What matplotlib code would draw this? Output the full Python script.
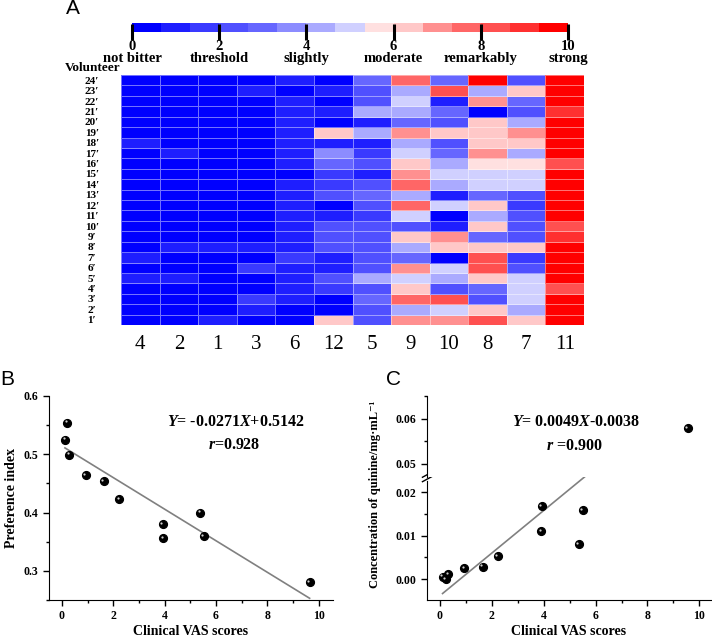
"""Bitterness panel: VAS heatmap (A) and correlation plots (B, C)."""
import numpy as np
import matplotlib
matplotlib.use("Agg")
import matplotlib.pyplot as plt
from matplotlib.colors import ListedColormap, BoundaryNorm
from matplotlib.ticker import MultipleLocator, FormatStrFormatter
from matplotlib.transforms import offset_copy

plt.rcParams["font.family"] = ["Liberation Serif", "DejaVu Serif"]
plt.rcParams["font.weight"] = "bold"
plt.rcParams["axes.labelweight"] = "bold"
plt.rcParams["mathtext.fontset"] = "custom"
plt.rcParams["mathtext.rm"] = "Liberation Serif:bold"
plt.rcParams["mathtext.it"] = "Liberation Serif:italic:bold"
plt.rcParams["mathtext.bf"] = "Liberation Serif:bold"

# --- data -------------------------------------------------------------------
samples = ["4", "2", "1", "3", "6", "12", "5", "9", "10", "8", "7", "11"]
volunteers = [f"{i}\u2032" for i in range(1, 25)]

# VAS scores, row = volunteer 1..24, column = samples (in the order above)
vas = np.array([
    [0.3, 0.3, 1.0, 0.3, 0.3, 6.3, 2.3, 7.0, 7.0, 8.3, 6.3, 9.7],
    [0.3, 0.3, 0.3, 1.0, 0.3, 0.3, 2.3, 4.3, 5.0, 6.3, 4.3, 9.7],
    [0.3, 0.3, 0.3, 1.7, 1.0, 0.3, 3.0, 7.7, 8.3, 2.3, 5.0, 9.7],
    [0.3, 0.3, 0.3, 0.3, 1.0, 1.7, 2.3, 6.3, 2.3, 3.0, 5.0, 8.3],
    [1.0, 1.0, 0.3, 0.3, 1.0, 2.3, 4.3, 5.0, 4.3, 6.3, 5.0, 9.7],
    [0.3, 0.3, 0.3, 1.7, 1.0, 1.0, 2.3, 7.0, 5.0, 8.3, 2.3, 9.7],
    [1.0, 0.3, 0.3, 0.3, 1.7, 1.0, 2.3, 3.0, 0.3, 8.3, 1.7, 9.7],
    [0.3, 1.0, 1.0, 1.0, 1.0, 2.3, 2.3, 4.3, 6.3, 6.3, 6.3, 9.7],
    [0.3, 0.3, 0.3, 0.3, 1.0, 2.3, 2.3, 6.3, 7.0, 3.0, 2.3, 9.0],
    [0.3, 0.3, 0.3, 0.3, 1.0, 2.3, 2.3, 2.3, 1.0, 6.3, 2.3, 8.3],
    [0.3, 0.3, 0.3, 0.3, 1.0, 1.0, 1.7, 5.0, 0.3, 4.3, 2.3, 9.7],
    [0.3, 0.3, 0.3, 0.3, 1.0, 0.3, 2.3, 7.7, 5.0, 6.3, 1.7, 9.7],
    [0.3, 0.3, 0.3, 0.3, 1.0, 2.3, 3.0, 4.3, 1.0, 3.0, 2.3, 9.7],
    [0.3, 0.3, 0.3, 0.3, 1.0, 1.7, 2.3, 7.7, 4.3, 5.0, 5.0, 9.7],
    [0.3, 0.3, 0.3, 0.3, 0.3, 1.7, 1.0, 7.0, 5.0, 5.0, 5.0, 9.7],
    [0.3, 0.3, 0.3, 0.3, 1.0, 3.0, 2.3, 6.3, 4.3, 5.7, 5.7, 8.3],
    [0.3, 1.0, 0.3, 0.3, 1.0, 3.7, 1.7, 5.0, 3.0, 7.0, 4.3, 9.7],
    [1.0, 0.3, 0.3, 0.3, 1.0, 1.0, 1.0, 4.3, 2.3, 6.3, 6.3, 9.7],
    [0.3, 0.3, 0.3, 0.3, 1.0, 6.3, 4.3, 7.0, 6.3, 6.3, 7.0, 9.7],
    [0.3, 0.3, 0.3, 0.3, 1.0, 0.3, 1.0, 3.0, 2.3, 6.3, 4.3, 9.7],
    [0.3, 0.3, 0.3, 0.3, 1.0, 1.0, 4.3, 4.3, 3.0, 0.3, 2.3, 9.0],
    [0.3, 0.3, 0.3, 0.3, 1.0, 0.3, 2.3, 5.0, 1.0, 7.0, 3.0, 9.7],
    [0.3, 0.3, 0.3, 1.0, 0.3, 1.0, 2.3, 4.3, 8.3, 4.3, 6.3, 9.7],
    [0.3, 0.3, 0.3, 0.3, 1.0, 0.3, 3.0, 7.7, 3.0, 9.7, 2.3, 9.7],
])

scale_ticks = [0, 2, 4, 6, 8, 10]
scale_words = ["not bitter", "threshold", "slightly", "moderate", "remarkably", "strong"]

b_vas = [0.12, 0.21, 0.28, 0.93, 1.63, 2.23, 3.92, 3.95, 5.38, 5.52, 9.64]
b_pref = [0.525, 0.554, 0.499, 0.464, 0.454, 0.423, 0.380, 0.356, 0.400, 0.359, 0.281]
b_fit = (-0.0271, 0.5142)
b_r = 0.928

c_vas = [0.10, 0.22, 0.32, 0.94, 1.64, 2.22, 3.90, 3.92, 5.35, 5.50, 9.55]
c_conc = [0.0006, 0.0000, 0.0012, 0.0025, 0.0029, 0.0053, 0.0111, 0.0168, 0.0080, 0.0159, 0.0580]
c_fit = (0.0049, -0.0038)
c_r = 0.900

# --- helpers ----------------------------------------------------------------
W, H = 712, 638


def px(left, top, right, bottom):
    """pixel box -> figure fraction rect"""
    return [left / W, 1 - bottom / H, (right - left) / W, (bottom - top) / H]


level_colors = ["#0000FF", "#1E1EFF", "#3A3AFF", "#5050FF", "#6666FF",
                "#8C8CFF", "#AAAAFF", "#D0D0FF", "#FFE0E0", "#FFC8C8",
                "#FF9090", "#FF6666", "#FF5050", "#FF3030", "#FF0000"]
cmap = ListedColormap(level_colors)
bounds = np.linspace(0, 10, len(level_colors) + 1)
norm = BoundaryNorm(bounds, cmap.N)


def style_xy(ax):
    for s in ("top", "right"):
        ax.spines[s].set_visible(False)
    ax.tick_params(which="major", length=4, width=1, labelsize=8.5)
    ax.tick_params(which="minor", length=2.5, width=1)


def balls(ax, fig, x, y):
    ax.plot(x, y, "o", color="black", ms=5.6, zorder=3)
    hl = offset_copy(ax.transData, fig=fig, x=-1.0, y=1.0, units="points")
    ax.plot(x, y, "o", color="#d0d0d0", ms=1.6, mew=0, transform=hl, zorder=4)


fig = plt.figure(figsize=(W / 100, H / 100), dpi=100)

# --- A: colour scale ----------------------------------------------------------
cb = fig.add_axes(px(132, 23, 568, 32))
mids = (bounds[:-1] + bounds[1:]) / 2
cb.pcolormesh(bounds, [0, 1], mids[None, :], cmap=cmap, norm=norm)
cb.set_xlim(0, 10)
cb.set_yticks([])
for s in cb.spines.values():
    s.set_visible(False)
cb.set_xticks(scale_ticks)
cb.set_xticklabels([str(t) for t in scale_ticks], fontsize=10.5)
cb.tick_params(axis="x", direction="inout", length=11, width=2.2, pad=0.5)
for t, w in zip(scale_ticks, scale_words):
    cb.text(t, -2.95, w, transform=cb.get_xaxis_transform(), ha="center",
            va="center", fontsize=10.5)

# --- A: heatmap ---------------------------------------------------------------
hm = fig.add_axes(px(121, 75, 584, 325))
hm.pcolormesh(np.arange(len(samples) + 1), np.arange(len(volunteers) + 1), vas,
              cmap=cmap, norm=norm, edgecolors=(1, 1, 1, 0.45), linewidth=0.7)
for s in hm.spines.values():
    s.set_visible(False)
hm.set_xticks(np.arange(len(samples)) + 0.5)
hm.set_xticklabels(samples, fontsize=15, fontweight="normal")
hm.set_yticks(np.arange(len(volunteers)) + 0.5)
hm.set_yticklabels(volunteers, fontsize=8)
for lbl in hm.get_yticklabels():
    lbl.set_ha("center")
hm.tick_params(axis="x", length=0, pad=7)
hm.tick_params(axis="y", length=0, pad=21)
hm.text(-0.002, 1.028, "Volunteer", transform=hm.transAxes, ha="right",
        va="center", fontsize=9.5)

# --- B -----------------------------------------------------------------------
axb = fig.add_axes(px(49, 396, 333, 600))
xs = np.array([min(b_vas), max(b_vas)])
axb.plot(xs, b_fit[0] * xs + b_fit[1], color="#808080", lw=1.2, zorder=2)
balls(axb, fig, b_vas, b_pref)
axb.set_xlim(-0.5, 10.55)
axb.set_ylim(0.25, 0.6)
axb.set_xticks(range(0, 11, 2))
axb.xaxis.set_minor_locator(MultipleLocator(1))
axb.set_yticks([0.3, 0.4, 0.5, 0.6])
axb.yaxis.set_minor_locator(MultipleLocator(0.05))
style_xy(axb)
axb.set_xlabel("Clinical VAS scores", fontsize=10, labelpad=2)
axb.set_ylabel("Preference index", fontsize=10)
axb.text(6.75, 0.555, f"$Y$= {b_fit[0]:.4f}$X${b_fit[1]:+.4f}", ha="center",
         va="center", fontsize=11.5)
axb.text(6.7, 0.516, f"$r$={b_r:.3f}", ha="center", va="center", fontsize=11.5)

# --- C (broken y axis) -------------------------------------------------------
axl = fig.add_axes(px(427, 477, 711, 600))
axu = fig.add_axes(px(427, 396, 711, 477), sharex=axl)
xs = np.array([min(c_vas), max(c_vas)])
axl.plot(xs, c_fit[0] * xs + c_fit[1], color="#808080", lw=1.2, zorder=2)
balls(axl, fig, c_vas, c_conc)
balls(axu, fig, c_vas, c_conc)
axl.set_xlim(-0.5, 10.45)
axl.set_ylim(-0.0048, 0.0235)
axu.set_ylim(0.0471, 0.0651)
axl.set_xticks(range(0, 11, 2))
axl.xaxis.set_minor_locator(MultipleLocator(1))
axl.set_yticks([0.0, 0.01, 0.02])
axl.yaxis.set_minor_locator(MultipleLocator(0.005))
axu.set_yticks([0.05, 0.06])
axu.yaxis.set_minor_locator(MultipleLocator(0.005))
for a in (axl, axu):
    a.yaxis.set_major_formatter(FormatStrFormatter("%.2f"))
    style_xy(a)
axu.spines["bottom"].set_visible(False)
axu.tick_params(axis="x", which="both", bottom=False, labelbottom=False)
axl.set_xlabel("Clinical VAS scores", fontsize=10, labelpad=2)

# break marks on the y axis
for dy in (-0.018, 0.018):
    axl.plot([-0.016, 0.016], [1 + dy - 0.02, 1 + dy + 0.02], color="black",
             lw=1, transform=axl.transAxes, clip_on=False, zorder=5)
axl.plot([0, 0], [0.985, 1.015], color="white", lw=2, transform=axl.transAxes,
         clip_on=False, zorder=4)

axu.text(5.27, 0.0593, f"$Y$= {c_fit[0]:.4f}$X${c_fit[1]:+.4f}", ha="center",
         va="center", fontsize=11.5)
axu.text(5.2, 0.0540, f"$r$ ={c_r:.3f}", ha="center", va="center", fontsize=11.5)
fig.text(375 / W, 1 - 494 / H, "Concentration of quinine/mg\u00b7mL\u207b\u00b9",
         rotation=90, ha="center", va="center", fontsize=9, fontweight="bold")

# panel letters
for letter, (x, y) in zip("ABC", [(73, 9), (7, 379), (393, 379)]):
    fig.text(x / W, 1 - y / H, letter, family="Liberation Sans",
             fontweight="normal", fontsize=15, ha="center", va="center")

fig.savefig("out.png", dpi=100)
